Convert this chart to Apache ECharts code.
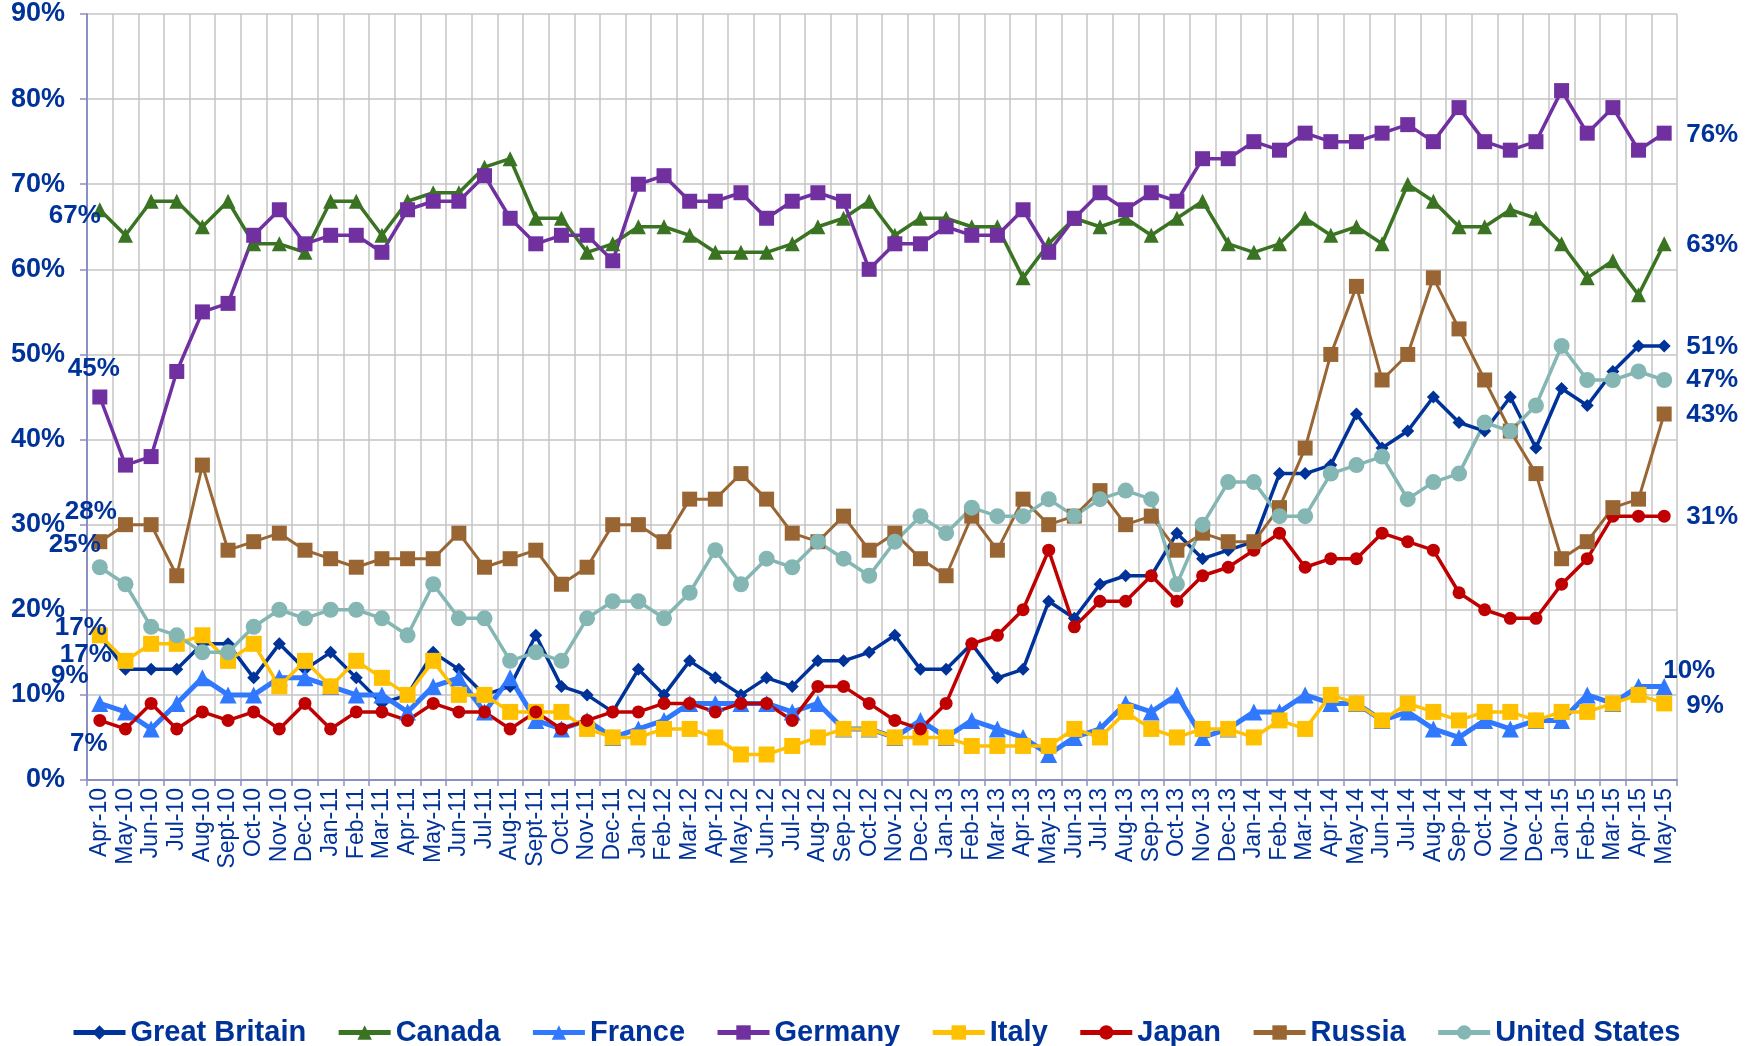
<!DOCTYPE html>
<html>
<head>
<meta charset="utf-8">
<title>Country ratings</title>
<script src="https://cdn.jsdelivr.net/npm/echarts@6/dist/echarts.min.js"></script>
<style>
  html, body { margin: 0; padding: 0; background: #fff; }
  #chart-wrapper { width: 1756px; height: 1046px; }
</style>
</head>
<body>
<div id="chart-wrapper"></div>
<script>
const months = [
  "Apr-10", "May-10", "Jun-10", "Jul-10", "Aug-10", "Sept-10", "Oct-10", "Nov-10", "Dec-10",
  "Jan-11", "Feb-11", "Mar-11", "Apr-11", "May-11", "Jun-11", "Jul-11", "Aug-11", "Sept-11", "Oct-11", "Nov-11", "Dec-11",
  "Jan-12", "Feb-12", "Mar-12", "Apr-12", "May-12", "Jun-12", "Jul-12", "Aug-12", "Sep-12", "Oct-12", "Nov-12", "Dec-12",
  "Jan-13", "Feb-13", "Mar-13", "Apr-13", "May-13", "Jun-13", "Jul-13", "Aug-13", "Sep-13", "Oct-13", "Nov-13", "Dec-13",
  "Jan-14", "Feb-14", "Mar-14", "Apr-14", "May-14", "Jun-14", "Jul-14", "Aug-14", "Sep-14", "Oct-14", "Nov-14", "Dec-14",
  "Jan-15", "Feb-15", "Mar-15", "Apr-15", "May-15",
];

const countries = ["Great Britain", "Canada", "France", "Germany", "Italy", "Japan", "Russia", "United States"];

const greatBritain = [17, 13, 13, 13, 16, 16, 12, 16, 13, 15, 12, 9, 10, 15, 13, 10, 11, 17, 11, 10, 8, 13, 10, 14, 12, 10, 12, 11, 14, 14, 15, 17, 13, 13, 16, 12, 13, 21, 19, 23, 24, 24, 29, 26, 27, 28, 36, 36, 37, 43, 39, 41, 45, 42, 41, 45, 39, 46, 44, 48, 51, 51];
const canada = [67, 64, 68, 68, 65, 68, 63, 63, 62, 68, 68, 64, 68, 69, 69, 72, 73, 66, 66, 62, 63, 65, 65, 64, 62, 62, 62, 63, 65, 66, 68, 64, 66, 66, 65, 65, 59, 63, 66, 65, 66, 64, 66, 68, 63, 62, 63, 66, 64, 65, 63, 70, 68, 65, 65, 67, 66, 63, 59, 61, 57, 63];
const france = [9, 8, 6, 9, 12, 10, 10, 12, 12, 11, 10, 10, 8, 11, 12, 8, 12, 7, 6, 7, 5, 6, 7, 9, 9, 9, 9, 8, 9, 6, 6, 5, 7, 5, 7, 6, 5, 3, 5, 6, 9, 8, 10, 5, 6, 8, 8, 10, 9, 9, 7, 8, 6, 5, 7, 6, 7, 7, 10, 9, 11, 11];
const germany = [45, 37, 38, 48, 55, 56, 64, 67, 63, 64, 64, 62, 67, 68, 68, 71, 66, 63, 64, 64, 61, 70, 71, 68, 68, 69, 66, 68, 69, 68, 60, 63, 63, 65, 64, 64, 67, 62, 66, 69, 67, 69, 68, 73, 73, 75, 74, 76, 75, 75, 76, 77, 75, 79, 75, 74, 75, 81, 76, 79, 74, 76];
const italy = [17, 14, 16, 16, 17, 14, 16, 11, 14, 11, 14, 12, 10, 14, 10, 10, 8, 8, 8, 6, 5, 5, 6, 6, 5, 3, 3, 4, 5, 6, 6, 5, 5, 5, 4, 4, 4, 4, 6, 5, 8, 6, 5, 6, 6, 5, 7, 6, 10, 9, 7, 9, 8, 7, 8, 8, 7, 8, 8, 9, 10, 9];
const japan = [7, 6, 9, 6, 8, 7, 8, 6, 9, 6, 8, 8, 7, 9, 8, 8, 6, 8, 6, 7, 8, 8, 9, 9, 8, 9, 9, 7, 11, 11, 9, 7, 6, 9, 16, 17, 20, 27, 18, 21, 21, 24, 21, 24, 25, 27, 29, 25, 26, 26, 29, 28, 27, 22, 20, 19, 19, 23, 26, 31, 31, 31];
const russia = [28, 30, 30, 24, 37, 27, 28, 29, 27, 26, 25, 26, 26, 26, 29, 25, 26, 27, 23, 25, 30, 30, 28, 33, 33, 36, 33, 29, 28, 31, 27, 29, 26, 24, 31, 27, 33, 30, 31, 34, 30, 31, 27, 29, 28, 28, 32, 39, 50, 58, 47, 50, 59, 53, 47, 41, 36, 26, 28, 32, 33, 43];
const unitedStates = [25, 23, 18, 17, 15, 15, 18, 20, 19, 20, 20, 19, 17, 23, 19, 19, 14, 15, 14, 19, 21, 21, 19, 22, 27, 23, 26, 25, 28, 26, 24, 28, 31, 29, 32, 31, 31, 33, 31, 33, 34, 33, 23, 30, 35, 35, 31, 31, 36, 37, 38, 33, 35, 36, 42, 41, 44, 51, 47, 47, 48, 47];

// texts printed at the first and last point of each line
const startLabels = ["17%", "67%", "9%", "45%", "17%", "7%", "28%", "25%"];
const endLabels = ["51%", "63%", "10%", "76%", "9%", "31%", "43%", "47%"];

const values = [greatBritain, canada, france, germany, italy, japan, russia, unitedStates];

// styling per series (same order as countries)
const styles = [
  { color: "#003399", symbol: "diamond", size: 13, width: 3.5, start: [-19, -7], end: [22, 1] },
  { color: "#3A7322", symbol: "triangle", size: 15, width: 3.5, start: [-25, 6], end: [22, 1] },
  { color: "#3079FF", symbol: "triangle", size: 17, width: 5, start: [-30, -28], end: [-1, -16] },
  { color: "#7030A0", symbol: "rect", size: 15, width: 3.5, start: [-6, -28], end: [22, 2] },
  { color: "#FFC000", symbol: "rect", size: 16, width: 3.5, start: [-14, 20], end: [22, 2] },
  { color: "#C00000", symbol: "circle", size: 13, width: 3.5, start: [-11, 23], end: [22, 1] },
  { color: "#996633", symbol: "rect", size: 15, width: 3, start: [-9, -30], end: [22, 1] },
  { color: "#84B6B4", symbol: "circle", size: 16, width: 3.5, start: [-25, -22], end: [22, 0] },
];

const textColor = "#003399";
const font = "'Liberation Sans', Arial, sans-serif";

const labelBase = {
  show: true,
  position: "inside",
  fontSize: 26,
  fontWeight: "bold",
  fontFamily: font,
  color: textColor,
  verticalAlign: "middle",
};

const buildSeries = () => {
  return countries.map((name, k) => {
    const st = styles[k];
    const last = values[k].length - 1;
    const data = values[k].map((v, i) => {
      if (i === 0) {
        return {
          value: v,
          label: { ...labelBase, align: "center", offset: st.start, formatter: startLabels[k] },
        };
      }
      if (i === last) {
        return {
          value: v,
          label: { ...labelBase, align: "left", offset: st.end, formatter: endLabels[k] },
        };
      }
      return v;
    });
    return {
      name: name,
      type: "line",
      data: data,
      symbol: st.symbol,
      symbolSize: st.size,
      showAllSymbol: true,
      lineStyle: { color: st.color, width: st.width },
      itemStyle: { color: st.color },
      label: { show: false },
      emphasis: { disabled: true },
    };
  });
};

const chart = echarts.init(document.getElementById("chart-wrapper"));

const option = {
  animation: false,
  backgroundColor: "#ffffff",
  grid: { left: 87, right: 79, top: 14, bottom: 266 },
  legend: {
    data: countries,
    left: 66,
    top: 1013,
    itemWidth: 52,
    itemHeight: 18,
    itemGap: 30,
    lineStyle: { width: 5 },
    textStyle: { fontSize: 29, fontWeight: "bold", fontFamily: font, color: textColor },
  },
  xAxis: {
    type: "category",
    data: months,
    boundaryGap: true,
    axisLine: { lineStyle: { color: "#8C8FC4", width: 2 } },
    axisTick: { show: true, length: 6, lineStyle: { color: "#8C8FC4", width: 1.5 } },
    axisLabel: {
      interval: 0,
      rotate: 90,
      margin: 8,
      fontSize: 23,
      fontFamily: font,
      color: textColor,
    },
    splitLine: { show: true, lineStyle: { color: "#C4C4C4", width: 1.5 } },
  },
  yAxis: {
    type: "value",
    min: 0,
    max: 90,
    interval: 10,
    axisLine: { show: true, lineStyle: { color: "#8C8FC4", width: 2 } },
    axisTick: { show: true, length: 7, lineStyle: { color: "#8C8FC4", width: 1.5 } },
    axisLabel: {
      formatter: "{value}%",
      margin: 22,
      fontSize: 27,
      fontWeight: "bold",
      fontFamily: font,
      color: textColor,
    },
    splitLine: { show: true, lineStyle: { color: "#C4C4C4", width: 1.5 } },
  },
  series: buildSeries(),
};

chart.setOption(option);
</script>
</body>
</html>
